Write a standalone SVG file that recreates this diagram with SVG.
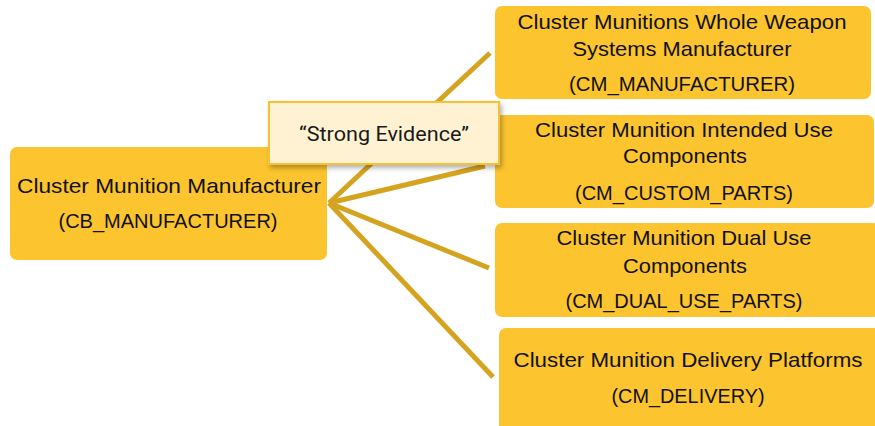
<svg xmlns="http://www.w3.org/2000/svg" width="875" height="426" viewBox="0 0 875 426">
  <defs>
    <filter id="shadow" x="-10%" y="-20%" width="125%" height="150%">
      <feDropShadow dx="2" dy="3" stdDeviation="2.5" flood-color="#000" flood-opacity="0.3"/>
    </filter>
  </defs>
  <style>
    .node { fill: #fcc42e; }
    .txt { font-family: "Liberation Sans", Arial, sans-serif; font-size: 21px; fill: #111; text-anchor: middle; }
    .edge { stroke: #d4a421; stroke-width: 5; fill: none; stroke-linecap: butt; }
    .label-box { fill: #fff2d2; stroke: #f7c232; stroke-width: 2; }
    .label { font-family: Roboto, "Liberation Sans", sans-serif; font-size: 21px; fill: #1a1a1a; text-anchor: middle; }
  </style>
  <rect width="875" height="426" fill="#ffffff"/>

  <!-- connectors fanning out from the manufacturer node -->
  <g id="connectors">
    <line class="edge" x1="329" y1="203" x2="490" y2="53"/>
    <line class="edge" x1="329" y1="203" x2="485" y2="166"/>
    <line class="edge" x1="329" y1="203" x2="489" y2="268"/>
    <line class="edge" x1="329" y1="203" x2="493" y2="377"/>
  </g>

  <g id="cb-manufacturer">
    <rect class="node" x="10" y="147" width="317" height="113" rx="7"/>
    <text class="txt" x="169" y="193" textLength="304" lengthAdjust="spacingAndGlyphs">Cluster Munition Manufacturer</text>
    <text class="txt" x="168" y="228" textLength="219" lengthAdjust="spacingAndGlyphs">(CB_MANUFACTURER)</text>
  </g>

  <g id="cm-manufacturer">
    <rect class="node" x="495" y="6" width="376" height="93" rx="7"/>
    <text class="txt" x="682" y="29" textLength="329" lengthAdjust="spacingAndGlyphs">Cluster Munitions Whole Weapon</text>
    <text class="txt" x="682" y="56" textLength="219" lengthAdjust="spacingAndGlyphs">Systems Manufacturer</text>
    <text class="txt" x="682" y="91" textLength="226" lengthAdjust="spacingAndGlyphs">(CM_MANUFACTURER)</text>
  </g>

  <g id="cm-custom-parts">
    <rect class="node" x="495" y="115" width="379" height="93" rx="7"/>
    <text class="txt" x="684" y="137" textLength="298" lengthAdjust="spacingAndGlyphs">Cluster Munition Intended Use</text>
    <text class="txt" x="685" y="163" textLength="124" lengthAdjust="spacingAndGlyphs">Components</text>
    <text class="txt" x="684" y="200" textLength="218" lengthAdjust="spacingAndGlyphs">(CM_CUSTOM_PARTS)</text>
  </g>

  <g id="cm-dual-use-parts">
    <rect class="node" x="495" y="223" width="385" height="94" rx="7"/>
    <text class="txt" x="684" y="245" textLength="255" lengthAdjust="spacingAndGlyphs">Cluster Munition Dual Use</text>
    <text class="txt" x="685" y="273" textLength="124" lengthAdjust="spacingAndGlyphs">Components</text>
    <text class="txt" x="684" y="308" textLength="237" lengthAdjust="spacingAndGlyphs">(CM_DUAL_USE_PARTS)</text>
  </g>

  <g id="cm-delivery">
    <rect class="node" x="499" y="328" width="385" height="110" rx="7"/>
    <text class="txt" x="688" y="367" textLength="349" lengthAdjust="spacingAndGlyphs">Cluster Munition Delivery Platforms</text>
    <text class="txt" x="688" y="403" textLength="153" lengthAdjust="spacingAndGlyphs">(CM_DELIVERY)</text>
  </g>

  <g id="strong-evidence">
    <rect class="label-box" x="269" y="102" width="230" height="62" filter="url(#shadow)"/>
    <text class="label" x="384" y="141" textLength="170" lengthAdjust="spacingAndGlyphs">“Strong Evidence”</text>
  </g>
</svg>
